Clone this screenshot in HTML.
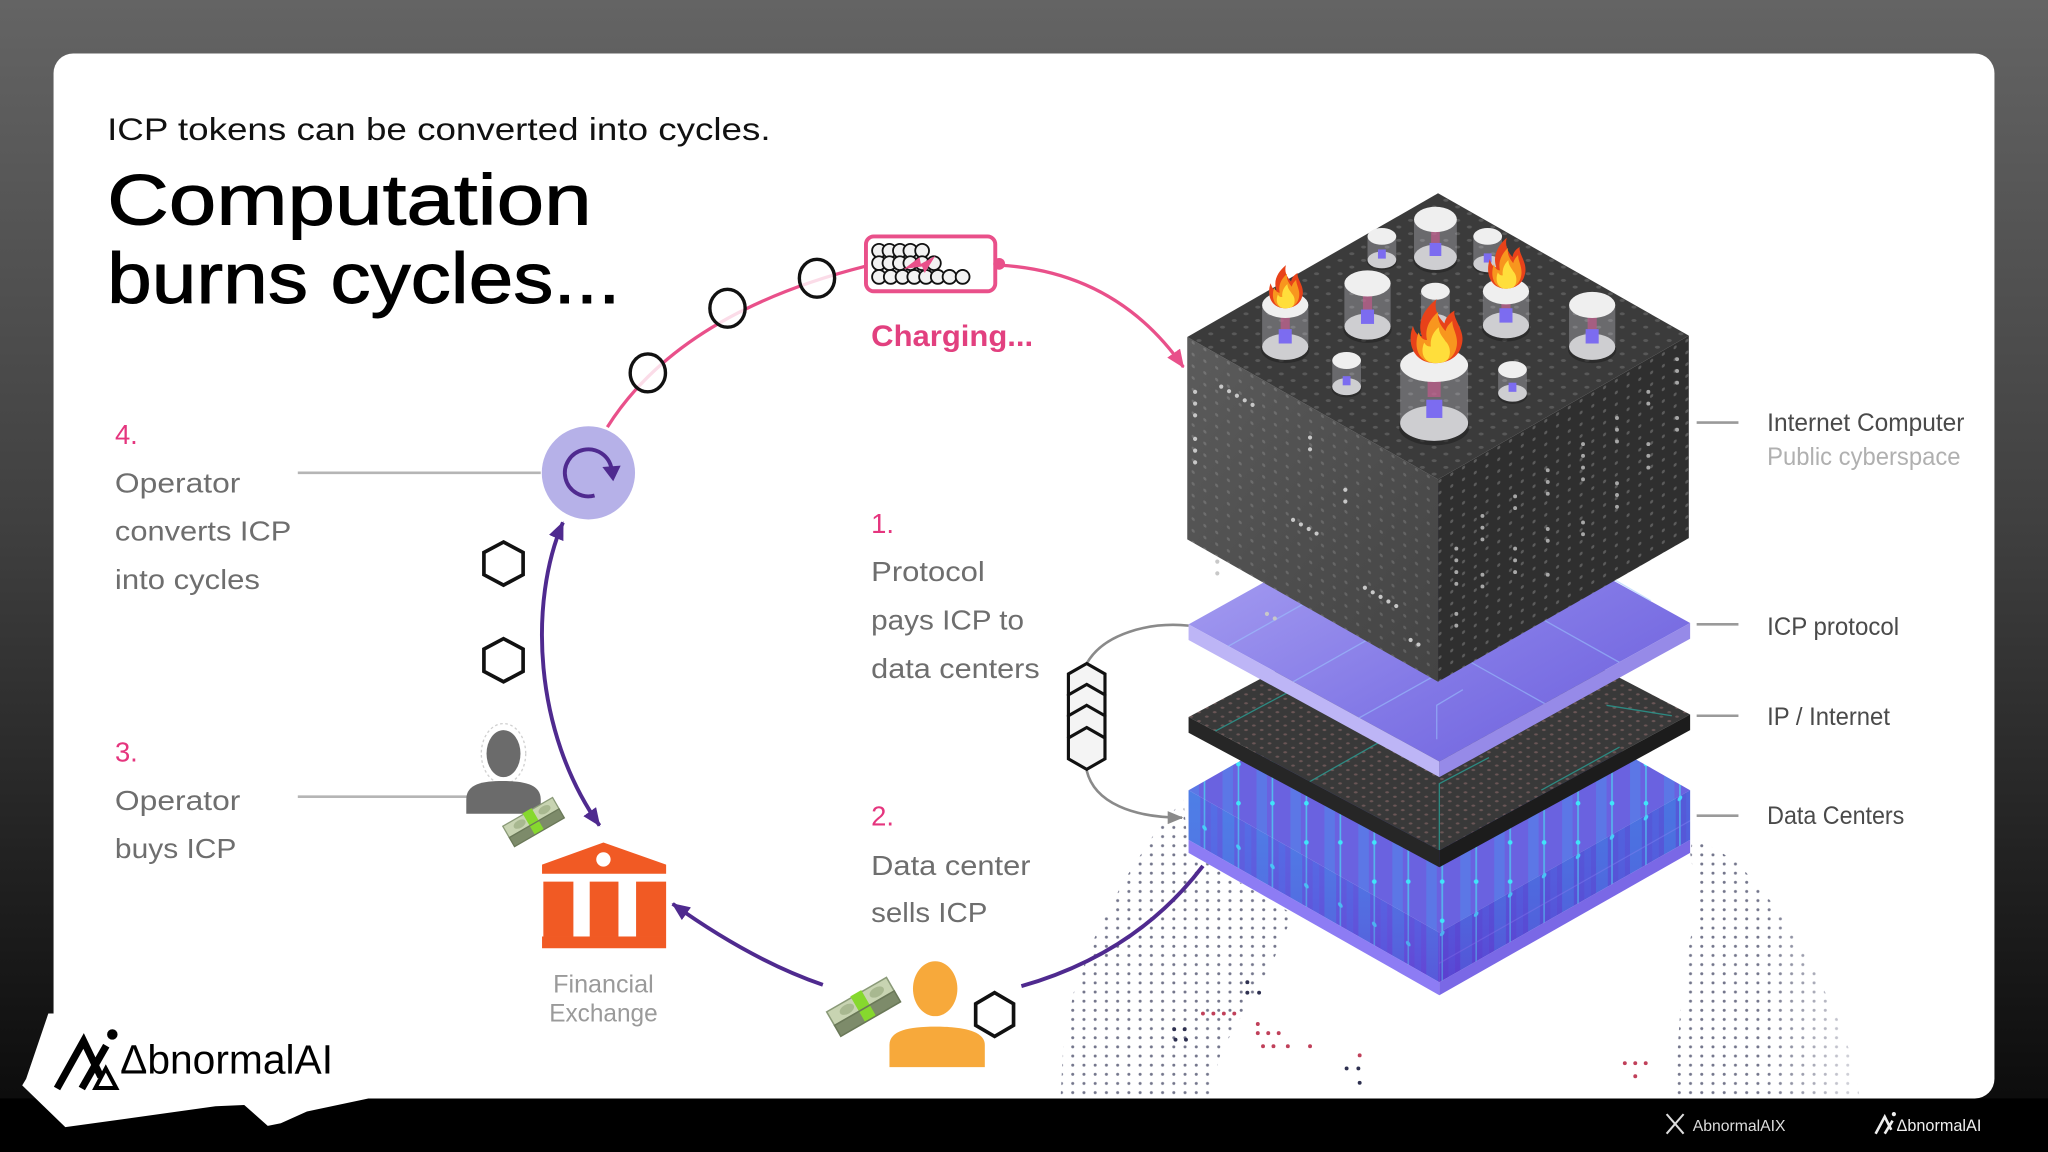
<!DOCTYPE html>
<html><head><meta charset="utf-8"><style>
html,body{margin:0;padding:0;background:#000;overflow:hidden;width:2048px;height:1152px}
svg{display:block}
</style></head><body>
<svg width="2048" height="1152" viewBox="0 0 1568 882" xmlns="http://www.w3.org/2000/svg" xmlns:xlink="http://www.w3.org/1999/xlink" font-family="'Liberation Sans', sans-serif">
<defs>
<linearGradient id="bg" x1="0" y1="0" x2="0" y2="1">
<stop offset="0" stop-color="#646464"/><stop offset="0.45" stop-color="#404040"/><stop offset="0.8" stop-color="#1c1c1c"/><stop offset="1" stop-color="#080808"/>
</linearGradient>
<pattern id="pTop" width="9" height="9" patternUnits="userSpaceOnUse" patternTransform="matrix(1 0.568 -1 0.568 0 0)"><rect width="9" height="9" fill="#3b3b3b"/><circle cx="4.5" cy="4.5" r="1.4" fill="#595959"/></pattern>
<pattern id="pLeft" width="9" height="9" patternUnits="userSpaceOnUse" patternTransform="skewY(29.6)"><rect width="9" height="9" fill="#4a4a4a"/><circle cx="4.5" cy="4.5" r="1.2" fill="#666"/></pattern>
<pattern id="pRight" width="9" height="9" patternUnits="userSpaceOnUse" patternTransform="skewY(-29.6)"><rect width="9" height="9" fill="#2f2f2f"/><circle cx="4.5" cy="4.5" r="1.2" fill="#5c5c5c"/></pattern>
<pattern id="pIP" width="6" height="6" patternUnits="userSpaceOnUse" patternTransform="matrix(1 0.568 -1 0.568 0 0)"><rect width="6" height="6" fill="#393939"/><circle cx="3" cy="3" r="1" fill="#6a5656"/></pattern>
<pattern id="pDCL" width="26" height="44" patternUnits="userSpaceOnUse" patternTransform="skewY(29.6)"><rect width="26" height="44" fill="#5d55d8"/><rect width="9" height="44" fill="#4385e4" opacity="0.7"/><rect x="17" width="5" height="44" fill="#4a70e6" opacity="0.5"/><rect x="11.6" width="1.2" height="44" fill="#4fd0f0" opacity="0.8"/><circle cx="12.2" cy="22" r="1.8" fill="#3fe6fa"/><rect y="43" width="26" height="1" fill="#8a80f0" opacity="0.5"/></pattern>
<pattern id="pDCR" width="26" height="44" patternUnits="userSpaceOnUse" patternTransform="skewY(-29.6)"><rect width="26" height="44" fill="#5249cf"/><rect width="9" height="44" fill="#3f7de0" opacity="0.65"/><rect x="17" width="5" height="44" fill="#4a62de" opacity="0.5"/><rect x="11.6" width="1.2" height="44" fill="#4fd0f0" opacity="0.8"/><circle cx="12.2" cy="22" r="1.8" fill="#3fe6fa"/><rect y="43" width="26" height="1" fill="#8a80f0" opacity="0.5"/></pattern>
<pattern id="pDCT" width="26" height="30" patternUnits="userSpaceOnUse"><rect width="26" height="30" fill="#6a62e0"/><rect width="8" height="30" fill="#4d8cec" opacity="0.5"/><rect x="11.6" width="1.2" height="30" fill="#4fd0f0" opacity="0.8"/><circle cx="12.2" cy="15" r="1.8" fill="#3fe6fa"/></pattern>
<pattern id="pG" width="8.6" height="7" patternUnits="userSpaceOnUse"><circle cx="4.3" cy="3.5" r="1.15" fill="#50536e"/></pattern>
<linearGradient id="fadeL" x1="0" y1="0" x2="1" y2="0" gradientUnits="userSpaceOnUse" x1="810" x2="880" y1="0" y2="0"><stop offset="0" stop-color="#fff" stop-opacity="0.75"/><stop offset="1" stop-color="#fff" stop-opacity="0"/></linearGradient>
<linearGradient id="fadeR" gradientUnits="userSpaceOnUse" x1="1425" x2="1350" y1="0" y2="0"><stop offset="0" stop-color="#fff" stop-opacity="0.75"/><stop offset="1" stop-color="#fff" stop-opacity="0"/></linearGradient>
<linearGradient id="gICP" x1="0" y1="0" x2="1" y2="1"><stop offset="0" stop-color="#b0a8f4"/><stop offset="0.6" stop-color="#8278e6"/><stop offset="1" stop-color="#6a5cdc"/></linearGradient>
<linearGradient id="gLeft" x1="0" y1="0" x2="1" y2="1"><stop offset="0" stop-color="#fff" stop-opacity="0.1"/><stop offset="1" stop-color="#000" stop-opacity="0.08"/></linearGradient>
<linearGradient id="gDC" x1="0" y1="0" x2="0" y2="1"><stop offset="0" stop-color="#5aa0ff" stop-opacity="0.2"/><stop offset="1" stop-color="#6a2fd0" stop-opacity="0.4"/></linearGradient>
<marker id="mPink" markerWidth="14" markerHeight="12" refX="13" refY="6" orient="auto" markerUnits="userSpaceOnUse"><path d="M0,0 L14,6 L0,12 Z" fill="#e9508a"/></marker>
<marker id="mPurple" markerWidth="14" markerHeight="12" refX="13" refY="6" orient="auto-start-reverse" markerUnits="userSpaceOnUse"><path d="M0,0 L14,6 L0,12 Z" fill="#4f2a8f"/></marker>
<marker id="mGray" markerWidth="12" markerHeight="10" refX="11" refY="5" orient="auto" markerUnits="userSpaceOnUse"><path d="M0,0 L12,5 L0,10 Z" fill="#8a8a8a"/></marker>
<g id="flame">
<path d="M0,0 C-0.38,0 -0.52,-0.3 -0.4,-0.58 C-0.36,-0.46 -0.3,-0.42 -0.24,-0.42 C-0.34,-0.66 -0.18,-0.86 0.02,-1 C-0.04,-0.82 0.08,-0.7 0.16,-0.62 C0.18,-0.72 0.26,-0.78 0.34,-0.82 C0.3,-0.68 0.56,-0.5 0.46,-0.26 C0.4,-0.08 0.2,0 0,0 Z" fill="#e8421a"/>
<path d="M0,0 C-0.3,0 -0.4,-0.25 -0.3,-0.48 C-0.26,-0.38 -0.2,-0.36 -0.15,-0.36 C-0.2,-0.56 -0.08,-0.7 0.05,-0.8 C0.02,-0.66 0.12,-0.56 0.18,-0.5 C0.2,-0.58 0.26,-0.62 0.3,-0.66 C0.3,-0.52 0.44,-0.4 0.36,-0.2 C0.3,-0.06 0.16,0 0,0 Z" fill="#f8961e"/>
<path d="M0,0 C-0.2,0 -0.28,-0.16 -0.2,-0.32 C-0.16,-0.26 -0.12,-0.26 -0.08,-0.26 C-0.1,-0.4 -0.02,-0.5 0.06,-0.56 C0.06,-0.46 0.14,-0.4 0.18,-0.34 C0.28,-0.26 0.28,-0.1 0.2,-0.04 C0.14,0 0.06,0 0,0 Z" fill="#ffde3b"/>
</g>
<g id="money">
<path d="M-22,-8 L22,-8 L22,6 L-22,6 Z" fill="#7d8b6a"/>
<path d="M-22,-12 L22,-12 L22,-2 L-22,-2 Z" fill="#c8d4b2" stroke="#8a9a78" stroke-width="1"/>
<ellipse cx="-10" cy="-7" rx="5" ry="3" fill="#a8b890"/>
<ellipse cx="12" cy="-7" rx="5" ry="3" fill="#a8b890"/>
<rect x="-4" y="-13" width="8" height="19" fill="#86d82e"/>
<path d="M-22,-2 L22,-2 L22,6 L-22,6 Z" fill="none" stroke="#6a7858" stroke-width="1"/>
</g>
</defs>

<!-- background -->
<rect x="0" y="0" width="1568" height="882" fill="url(#bg)"/>
<rect x="0" y="841" width="1568" height="41" fill="#000"/>
<!-- card -->
<rect x="41" y="41" width="1486" height="800" rx="15" fill="#fff"/>
<rect x="41" y="800" width="60" height="41" fill="#fff"/>

<!-- title -->
<text x="82" y="107" font-size="24" fill="#111" textLength="508" lengthAdjust="spacingAndGlyphs">ICP tokens can be converted into cycles.</text>
<text x="82" y="172" font-size="55" fill="#000" stroke="#000" stroke-width="0.7" textLength="371" lengthAdjust="spacingAndGlyphs">Computation</text>
<text x="82" y="232" font-size="55" fill="#000" stroke="#000" stroke-width="0.7" textLength="393" lengthAdjust="spacingAndGlyphs">burns cycles...</text>

<!-- globe dots -->
<path d="M906,612 L910,653 L940,670 L990,700 L975,735 L955,770 L935,805 L925,841 L812,841 L814,800 L822,760 L838,718 L860,675 L884,638 Z" fill="url(#pG)" opacity="0.8"/>
<path d="M906,612 L910,653 L940,670 L990,700 L975,735 L955,770 L935,805 L925,841 L812,841 L814,800 L822,760 L838,718 L860,675 L884,638 Z" fill="url(#fadeL)"/>
<path d="M1296,640 L1294,653 L1300,690 L1292,730 L1286,780 L1282,841 L1424,841 L1418,810 L1405,775 L1385,735 L1360,695 L1330,660 Z" fill="url(#pG)" opacity="0.8"/>
<path d="M1296,640 L1294,653 L1300,690 L1292,730 L1286,780 L1282,841 L1424,841 L1418,810 L1405,775 L1385,735 L1360,695 L1330,660 Z" fill="url(#fadeR)"/>
<g fill="#c0405a">
<circle cx="921" cy="776" r="1.5"/><circle cx="929" cy="776" r="1.5"/><circle cx="937" cy="776" r="1.5"/><circle cx="945" cy="776" r="1.5"/>
<circle cx="963" cy="784" r="1.5"/><circle cx="963" cy="791" r="1.5"/><circle cx="971" cy="791" r="1.5"/><circle cx="979" cy="791" r="1.5"/>
<circle cx="967" cy="801" r="1.5"/><circle cx="975" cy="801" r="1.5"/><circle cx="986" cy="801" r="1.5"/><circle cx="1003" cy="801" r="1.5"/><circle cx="1041" cy="808" r="1.5"/>
<circle cx="1244" cy="814" r="1.5"/><circle cx="1252" cy="814" r="1.5"/><circle cx="1260" cy="814" r="1.5"/><circle cx="1252" cy="824" r="1.5"/>
</g>
<g fill="#2e3050">
<circle cx="955" cy="752" r="1.5"/><circle cx="955" cy="760" r="1.5"/><circle cx="964" cy="760" r="1.5"/><circle cx="1031" cy="818" r="1.5"/><circle cx="1040" cy="818" r="1.5"/><circle cx="1041" cy="829" r="1.5"/>
<circle cx="899" cy="788" r="1.5"/><circle cx="907" cy="788" r="1.5"/><circle cx="900" cy="796" r="1.5"/><circle cx="908" cy="796" r="1.5"/>
</g>

<!-- purple line to data center -->
<path d="M782,755 Q870,730 921,663" fill="none" stroke="#4f2a8f" stroke-width="3"/>

<!-- DATA CENTER block -->
<polygon points="910,605 1102,496 1294,605 1102,714" fill="url(#pDCT)"/>
<polygon points="910,605 1102,714 1102,752 910,643" fill="url(#pDCL)"/>
<polygon points="1102,714 1294,605 1294,643 1102,752" fill="url(#pDCR)"/>
<polygon points="910,605 1102,714 1102,752 910,643" fill="url(#gDC)"/>
<polygon points="1102,714 1294,605 1294,643 1102,752" fill="url(#gDC)"/>
<polygon points="910,643 1102,752 1102,762 910,653" fill="#8d7cf4"/>
<polygon points="1102,752 1294,643 1294,653 1102,762" fill="#7a68e6"/>

<!-- IP slab -->
<polygon points="910,549 1102,447 1294,547 1102,651" fill="url(#pIP)"/>
<g stroke="#2a9d94" stroke-width="1" fill="none" opacity="0.8">
<path d="M930,560 L990,528 L1010,540"/>
<path d="M1230,540 L1280,548"/>
<path d="M1102,651 L1102,600 L1140,580"/>
<path d="M1000,600 L1060,566"/>
<path d="M1180,605 L1240,572"/>
</g>
<polygon points="910,549 1102,651 1102,664 910,561" fill="#262626"/>
<polygon points="1102,651 1294,547 1294,559 1102,664" fill="#1c1c1c"/>

<!-- ICP slab -->
<polygon points="910,478 1102,371 1294,477 1102,583" fill="url(#gICP)"/>
<g stroke="#9cc8ff" stroke-width="1" fill="none" opacity="0.55">
<path d="M940,495 L1132,387"/>
<path d="M990,522 L1160,426"/>
<path d="M1040,550 L1210,455"/>
<path d="M1160,400 L1264,460"/>
<path d="M1120,440 L1245,510"/>
<path d="M1060,470 L1185,540"/>
<path d="M1100,566 L1100,540 L1120,528"/>
</g>
<polygon points="910,478 1102,583 1102,595 910,490" fill="#bdb5f6"/>
<polygon points="1102,583 1294,477 1294,489 1102,595" fill="#968ae8"/>

<!-- TOP cube -->
<polygon points="909,258 1101,367 1101,522 909,413" fill="url(#pLeft)"/>
<polygon points="909,258 1101,367 1101,522 909,413" fill="url(#gLeft)"/>
<polygon points="1101,367 1293,257 1293,412 1101,522" fill="url(#pRight)"/>
<polygon points="1101,148 1293,257 1101,367 909,258" fill="url(#pTop)"/>
<g fill="#c8c8c8">
<circle cx="915" cy="300" r="1.6"/><circle cx="915" cy="309" r="1.6"/><circle cx="915" cy="318" r="1.6"/><circle cx="915" cy="336" r="1.6"/><circle cx="915" cy="345" r="1.6"/><circle cx="915" cy="354" r="1.6"/>
<circle cx="935" cy="296" r="1.6"/><circle cx="941" cy="299.5" r="1.6"/><circle cx="947" cy="303" r="1.6"/><circle cx="953" cy="306.5" r="1.6"/><circle cx="959" cy="310" r="1.6"/>
<circle cx="1003" cy="335" r="1.6"/><circle cx="1003" cy="344" r="1.6"/>
<circle cx="990" cy="398" r="1.6"/><circle cx="996" cy="401.5" r="1.6"/><circle cx="1002" cy="405" r="1.6"/><circle cx="1008" cy="408.5" r="1.6"/>
<circle cx="1045" cy="450" r="1.6"/><circle cx="1051" cy="453.5" r="1.6"/><circle cx="1057" cy="457" r="1.6"/><circle cx="1063" cy="460.5" r="1.6"/><circle cx="1069" cy="464" r="1.6"/>
<circle cx="932" cy="430" r="1.6"/><circle cx="932" cy="439" r="1.6"/><circle cx="970" cy="470" r="1.6"/><circle cx="976" cy="473.5" r="1.6"/>
<circle cx="1080" cy="490" r="1.6"/><circle cx="1086" cy="493.5" r="1.6"/><circle cx="1030" cy="375" r="1.6"/><circle cx="1030" cy="384" r="1.6"/>
</g>
<g fill="#a8a8a8">
<circle cx="1115" cy="420" r="1.5"/><circle cx="1115" cy="429" r="1.5"/><circle cx="1115" cy="438" r="1.5"/><circle cx="1115" cy="447" r="1.5"/><circle cx="1115" cy="470" r="1.5"/><circle cx="1115" cy="479" r="1.5"/>
<circle cx="1135" cy="395" r="1.5"/><circle cx="1135" cy="404" r="1.5"/><circle cx="1135" cy="413" r="1.5"/><circle cx="1135" cy="440" r="1.5"/><circle cx="1135" cy="449" r="1.5"/>
<circle cx="1160" cy="380" r="1.5"/><circle cx="1160" cy="389" r="1.5"/><circle cx="1160" cy="420" r="1.5"/><circle cx="1160" cy="429" r="1.5"/><circle cx="1160" cy="438" r="1.5"/>
<circle cx="1185" cy="360" r="1.5"/><circle cx="1185" cy="369" r="1.5"/><circle cx="1185" cy="378" r="1.5"/><circle cx="1185" cy="405" r="1.5"/><circle cx="1185" cy="414" r="1.5"/><circle cx="1185" cy="440" r="1.5"/>
<circle cx="1212" cy="340" r="1.5"/><circle cx="1212" cy="349" r="1.5"/><circle cx="1212" cy="358" r="1.5"/><circle cx="1212" cy="367" r="1.5"/><circle cx="1212" cy="400" r="1.5"/><circle cx="1212" cy="409" r="1.5"/>
<circle cx="1238" cy="320" r="1.5"/><circle cx="1238" cy="329" r="1.5"/><circle cx="1238" cy="338" r="1.5"/><circle cx="1238" cy="370" r="1.5"/><circle cx="1238" cy="379" r="1.5"/><circle cx="1238" cy="388" r="1.5"/>
<circle cx="1262" cy="300" r="1.5"/><circle cx="1262" cy="309" r="1.5"/><circle cx="1262" cy="340" r="1.5"/><circle cx="1262" cy="349" r="1.5"/><circle cx="1262" cy="358" r="1.5"/>
<circle cx="1284" cy="275" r="1.5"/><circle cx="1284" cy="284" r="1.5"/><circle cx="1284" cy="293" r="1.5"/><circle cx="1284" cy="320" r="1.5"/><circle cx="1284" cy="329" r="1.5"/>
</g>

<!-- cylinders -->
<g id="cyls">
<ellipse cx="1099" cy="199" rx="17" ry="10" fill="#1e1e1e" opacity="0.5"/>
<ellipse cx="1099" cy="197" rx="16.4" ry="9.7" fill="#cbcbcb"/>
<path d="M1082.6,168 L1082.6,197 A16.4,9.7 0 0 0 1115.4,197 L1115.4,168 Z" fill="#d8d8e0" opacity="0.3"/>
<rect x="1095.7" y="176" width="6.6" height="12" fill="#c05a8a" opacity="0.7"/>
<rect x="1094.5" y="186" width="9" height="10" fill="#7c6cf0"/>
<ellipse cx="1099" cy="168" rx="16.4" ry="9.7" fill="#efefef"/>
<ellipse cx="1058" cy="200" rx="11.5" ry="6.8" fill="#1e1e1e" opacity="0.5"/>
<ellipse cx="1058" cy="199" rx="11" ry="6.4" fill="#cbcbcb"/>
<path d="M1047,181 L1047,199 A11,6.4 0 0 0 1069,199 L1069,181 Z" fill="#d8d8e0" opacity="0.3"/>
<rect x="1055" y="191" width="6" height="7" fill="#7c6cf0"/>
<ellipse cx="1058" cy="181" rx="11" ry="6.4" fill="#efefef"/>
<ellipse cx="1139" cy="203" rx="11.5" ry="6.8" fill="#1e1e1e" opacity="0.5"/>
<ellipse cx="1139" cy="202" rx="11" ry="6.4" fill="#cbcbcb"/>
<path d="M1128,181 L1128,202 A11,6.4 0 0 0 1150,202 L1150,181 Z" fill="#d8d8e0" opacity="0.3"/>
<rect x="1136" y="194" width="6" height="7" fill="#7c6cf0"/>
<ellipse cx="1139" cy="181" rx="11" ry="6.4" fill="#efefef"/>
<ellipse cx="1047" cy="252" rx="18.5" ry="10.5" fill="#1e1e1e" opacity="0.5"/>
<ellipse cx="1047" cy="250" rx="17.7" ry="10" fill="#cbcbcb"/>
<path d="M1029.3,217 L1029.3,250 A17.7,10 0 0 0 1064.7,250 L1064.7,217 Z" fill="#d8d8e0" opacity="0.3"/>
<rect x="1043.5" y="226" width="7" height="12" fill="#c05a8a" opacity="0.7"/>
<rect x="1042" y="237" width="10" height="11" fill="#7c6cf0"/>
<ellipse cx="1047" cy="217" rx="17.7" ry="10" fill="#efefef"/>
<ellipse cx="1099" cy="248" rx="11.5" ry="6.8" fill="#1e1e1e" opacity="0.5"/>
<ellipse cx="1099" cy="247" rx="11" ry="6.5" fill="#cbcbcb"/>
<path d="M1088,223 L1088,247 A11,6.5 0 0 0 1110,247 L1110,223 Z" fill="#d8d8e0" opacity="0.3"/>
<ellipse cx="1099" cy="223" rx="11" ry="6.5" fill="#efefef"/>
<ellipse cx="1153" cy="251" rx="18.5" ry="10.5" fill="#1e1e1e" opacity="0.5"/>
<ellipse cx="1153" cy="249" rx="17.7" ry="10" fill="#cbcbcb"/>
<path d="M1135.3,223 L1135.3,249 A17.7,10 0 0 0 1170.7,249 L1170.7,223 Z" fill="#d8d8e0" opacity="0.3"/>
<rect x="1149.5" y="230" width="7" height="8" fill="#c05a8a" opacity="0.7"/>
<rect x="1148" y="236" width="10" height="11" fill="#7c6cf0"/>
<ellipse cx="1153" cy="223" rx="17.7" ry="10" fill="#efefef"/>
<use xlink:href="#flame" href="#flame" transform="translate(1153,221) scale(31,39)"/>
<ellipse cx="984" cy="267.5" rx="18.5" ry="10.5" fill="#1e1e1e" opacity="0.5"/>
<ellipse cx="984" cy="265.5" rx="17.7" ry="10" fill="#cbcbcb"/>
<path d="M966.3,233.5 L966.3,265.5 A17.7,10 0 0 0 1001.7,265.5 L1001.7,233.5 Z" fill="#d8d8e0" opacity="0.3"/>
<rect x="980.5" y="242" width="7" height="11" fill="#c05a8a" opacity="0.7"/>
<rect x="979" y="252" width="10" height="11" fill="#7c6cf0"/>
<ellipse cx="984" cy="233.5" rx="17.7" ry="10" fill="#efefef"/>
<use xlink:href="#flame" href="#flame" transform="translate(984,236) scale(28,33)"/>
<ellipse cx="1219" cy="267.5" rx="18.5" ry="10.5" fill="#1e1e1e" opacity="0.5"/>
<ellipse cx="1219" cy="265.5" rx="17.7" ry="10" fill="#cbcbcb"/>
<path d="M1201.3,233.5 L1201.3,265.5 A17.7,10 0 0 0 1236.7,265.5 L1236.7,233.5 Z" fill="#d8d8e0" opacity="0.3"/>
<rect x="1215.5" y="242" width="7" height="11" fill="#c05a8a" opacity="0.7"/>
<rect x="1214" y="252" width="10" height="11" fill="#7c6cf0"/>
<ellipse cx="1219" cy="233.5" rx="17.7" ry="10" fill="#efefef"/>
<ellipse cx="1031" cy="297.5" rx="11.5" ry="6.8" fill="#1e1e1e" opacity="0.5"/>
<ellipse cx="1031" cy="296" rx="11" ry="6.5" fill="#cbcbcb"/>
<path d="M1020,276 L1020,296 A11,6.5 0 0 0 1042,296 L1042,276 Z" fill="#d8d8e0" opacity="0.3"/>
<rect x="1028" y="288" width="6" height="7" fill="#7c6cf0"/>
<ellipse cx="1031" cy="276" rx="11" ry="6.5" fill="#efefef"/>
<ellipse cx="1098" cy="327" rx="27" ry="14" fill="#1e1e1e" opacity="0.5"/>
<ellipse cx="1098" cy="324" rx="26" ry="13.5" fill="#cbcbcb"/>
<path d="M1072,279.5 L1072,324 A26,13.5 0 0 0 1124,324 L1124,279.5 Z" fill="#d8d8e0" opacity="0.3"/>
<rect x="1093" y="292" width="10" height="12" fill="#c05a8a" opacity="0.7"/>
<rect x="1092" y="306" width="12.3" height="14" fill="#7c6cf0"/>
<ellipse cx="1098" cy="279.5" rx="26" ry="13" fill="#efefef"/>
<use xlink:href="#flame" href="#flame" transform="translate(1099,278) scale(43,49)"/>
<ellipse cx="1158" cy="302.5" rx="11.5" ry="6.8" fill="#1e1e1e" opacity="0.5"/>
<ellipse cx="1158" cy="301" rx="11" ry="6.5" fill="#cbcbcb"/>
<path d="M1147,283 L1147,301 A11,6.5 0 0 0 1169,301 L1169,283 Z" fill="#d8d8e0" opacity="0.3"/>
<rect x="1155" y="293" width="6" height="7" fill="#7c6cf0"/>
<ellipse cx="1158" cy="283" rx="11" ry="6.5" fill="#efefef"/>
</g>

<!-- gray arc with hex stack -->
<path d="M910,479 C880,476 845,485 832,508" fill="none" stroke="#8a8a8a" stroke-width="2"/>
<path d="M832,590 C838,615 868,626 905,626" fill="none" stroke="#8a8a8a" stroke-width="2" marker-end="url(#mGray)"/>
<g fill="#f4f4f4" stroke="#111" stroke-width="2.4">
<polygon points="832,508 846,516 846,532 832,540 818,532 818,516"/>
<polygon points="832,524 846,532 846,548 832,556 818,548 818,532"/>
<polygon points="832,540 846,548 846,564 832,572 818,564 818,548"/>
<polygon points="832,557 846,565 846,581 832,589 818,581 818,565"/>
</g>

<!-- pink arc -->
<path d="M465,327 Q520,240 662,204" fill="none" stroke="#e9508a" stroke-width="2.5"/>
<path d="M765,203 Q855,208 906,281" fill="none" stroke="#e9508a" stroke-width="2.5" marker-end="url(#mPink)"/>
<g fill="#fff" fill-opacity="0.8" stroke="#111" stroke-width="2.6">
<ellipse cx="496" cy="285.5" rx="13.5" ry="14.5"/>
<ellipse cx="557" cy="236" rx="13.5" ry="14.5"/>
<ellipse cx="625.5" cy="213" rx="13.5" ry="14.5"/>
</g>
<!-- battery -->
<rect x="663" y="181" width="99" height="42" rx="6" fill="#fff" stroke="#e9508a" stroke-width="3"/>
<circle cx="765" cy="202" r="4.5" fill="#e9508a"/>
<g fill="#f2f2f2" stroke="#111" stroke-width="1.4">
<circle cx="673" cy="192" r="5.3"/><circle cx="681" cy="192" r="5.3"/><circle cx="689" cy="192" r="5.3"/><circle cx="697" cy="192" r="5.3"/><circle cx="706" cy="192" r="5.3"/>
<circle cx="673" cy="201.5" r="5.3"/><circle cx="681" cy="201.5" r="5.3"/><circle cx="689" cy="201.5" r="5.3"/><circle cx="697" cy="201.5" r="5.3"/><circle cx="706" cy="201.5" r="5.3"/><circle cx="715" cy="201.5" r="5.3"/>
<circle cx="673" cy="212" r="5.3"/><circle cx="682" cy="212" r="5.3"/><circle cx="691" cy="212" r="5.3"/><circle cx="700" cy="212" r="5.3"/><circle cx="709" cy="212" r="5.3"/><circle cx="718" cy="212" r="5.3"/><circle cx="727" cy="212" r="5.3"/><circle cx="737" cy="212" r="5.3"/>
</g>
<path d="M692,206 L704,197 L705,202 L716,196 L708,209 L706,204 Z" fill="#e9508a"/>
<text x="667" y="265" font-size="23" font-weight="bold" fill="#e2407f" textLength="124" lengthAdjust="spacingAndGlyphs">Charging...</text>

<!-- operator circle -->
<circle cx="450.5" cy="362" r="35.7" fill="#b6b1e8"/>
<path d="M455.2,379.4 A18,18 0 1 1 468.2,358.9" fill="none" stroke="#4f2a8f" stroke-width="3"/>
<path d="M461.2,357.5 L475.2,356.5 L469.5,368.5 Z" fill="#4f2a8f"/>

<!-- gray connector lines -->
<line x1="228" y1="362" x2="414" y2="362" stroke="#b5b5b5" stroke-width="2"/>
<line x1="228" y1="610" x2="362" y2="610" stroke="#b5b5b5" stroke-width="2"/>

<!-- hexagons -->
<g fill="#fff" stroke="#111" stroke-width="2.8">
<polygon points="385.5,415 400.5,423 400.5,440 385.5,448 370.5,440 370.5,423"/>
<polygon points="385.5,489 400.5,497 400.5,514 385.5,522 370.5,514 370.5,497"/>
<polygon points="761.5,760 776,768.5 776,785 761.5,793.5 747,785 747,768.5"/>
</g>

<!-- purple arrows -->
<path d="M431,400 C405,460 408,560 459,632" fill="none" stroke="#4f2a8f" stroke-width="3" marker-start="url(#mPurple)" marker-end="url(#mPurple)"/>
<path d="M630,754 Q575,735 515,692" fill="none" stroke="#4f2a8f" stroke-width="3" marker-end="url(#mPurple)"/>

<!-- gray person -->
<ellipse cx="385.5" cy="577" rx="17" ry="23" fill="none" stroke="#d0d0d0" stroke-width="1" stroke-dasharray="2,2"/>
<ellipse cx="385.5" cy="577" rx="13" ry="18" fill="#6b6b6b"/>
<path d="M357,623 L357,612 C357,600 370,598 385,598 C400,598 414,600 414,612 L414,623 Z" fill="#6b6b6b"/>
<use xlink:href="#money" href="#money" transform="translate(410,632) rotate(-30)"/>

<!-- bank -->
<g fill="#f15a24">
<path d="M415,662 L462,645 L510,662 L510,669 L415,669 Z"/>
<rect x="416" y="675" width="23" height="42"/>
<rect x="451.5" y="675" width="22" height="42"/>
<rect x="487" y="675" width="23" height="42"/>
<rect x="415" y="717" width="95" height="9"/>
</g>
<circle cx="462" cy="658" r="5.5" fill="#fff"/>
<text x="462" y="760" font-size="19" fill="#9a9a9a" text-anchor="middle" textLength="77" lengthAdjust="spacingAndGlyphs">Financial</text>
<text x="462" y="782" font-size="19" fill="#9a9a9a" text-anchor="middle" textLength="83" lengthAdjust="spacingAndGlyphs">Exchange</text>

<!-- orange person -->
<ellipse cx="716" cy="757" rx="17" ry="21" fill="#f7a93b"/>
<path d="M681,817 L681,800 C681,789 696,786 716,786 C736,786 754,789 754,800 L754,817 Z" fill="#f7a93b"/>
<use xlink:href="#money" href="#money" transform="translate(663,774) rotate(-30) scale(1.2)"/>

<!-- left labels -->
<g font-size="21" fill="#6e6e6e">
<text x="88" y="340" fill="#e5357e">4.</text>
<text x="88" y="377" textLength="96" lengthAdjust="spacingAndGlyphs">Operator</text>
<text x="88" y="414" textLength="135" lengthAdjust="spacingAndGlyphs">converts ICP</text>
<text x="88" y="451" textLength="111" lengthAdjust="spacingAndGlyphs">into cycles</text>
<text x="88" y="583" fill="#e5357e">3.</text>
<text x="88" y="620" textLength="96" lengthAdjust="spacingAndGlyphs">Operator</text>
<text x="88" y="657" textLength="93" lengthAdjust="spacingAndGlyphs">buys ICP</text>
<text x="667" y="408" fill="#e5357e">1.</text>
<text x="667" y="445" textLength="87" lengthAdjust="spacingAndGlyphs">Protocol</text>
<text x="667" y="482" textLength="117" lengthAdjust="spacingAndGlyphs">pays ICP to</text>
<text x="667" y="519" textLength="129" lengthAdjust="spacingAndGlyphs">data centers</text>
<text x="667" y="632" fill="#e5357e">2.</text>
<text x="667" y="670" textLength="122" lengthAdjust="spacingAndGlyphs">Data center</text>
<text x="667" y="706" textLength="89" lengthAdjust="spacingAndGlyphs">sells ICP</text>
</g>

<!-- right labels -->
<g stroke="#9a9a9a" stroke-width="2">
<line x1="1299" y1="323.5" x2="1331" y2="323.5"/>
<line x1="1299" y1="478" x2="1331" y2="478"/>
<line x1="1299" y1="548" x2="1331" y2="548"/>
<line x1="1299" y1="624.5" x2="1331" y2="624.5"/>
</g>
<g font-size="19" fill="#4a4a4a">
<text x="1353" y="330" textLength="151" lengthAdjust="spacingAndGlyphs">Internet Computer</text>
<text x="1353" y="356" fill="#b0b0b0" textLength="148" lengthAdjust="spacingAndGlyphs">Public cyberspace</text>
<text x="1353" y="486" textLength="101" lengthAdjust="spacingAndGlyphs">ICP protocol</text>
<text x="1353" y="555" textLength="94" lengthAdjust="spacingAndGlyphs">IP / Internet</text>
<text x="1353" y="631" textLength="105" lengthAdjust="spacingAndGlyphs">Data Centers</text>
</g>

<!-- bottom-left badge -->
<path d="M37,776 L282,776 L282,841 L235,851 L215,860 L205,862 L187,846 L165,847 L115,854 L50,863 L17,831 L20,826 Z" fill="#fff"/>
<g fill="none" stroke="#000" stroke-width="5.5" stroke-linejoin="miter" stroke-linecap="square">
<path d="M45,831 L64,797 L76,822"/>
<path d="M64,831 L80,803"/>
</g>
<path d="M73,833 L81,818 L89,833 Z" fill="none" stroke="#000" stroke-width="3"/>
<circle cx="86" cy="792" r="4" fill="#000"/>
<text x="92" y="822" font-size="31" fill="#000" textLength="163" lengthAdjust="spacingAndGlyphs">ΔbnormalAI</text>

<!-- footer right -->
<g stroke="#ddd" stroke-width="1.6">
<line x1="1276" y1="853" x2="1289" y2="868"/>
<line x1="1289" y1="853" x2="1276" y2="868"/>
</g>
<text x="1296" y="866" font-size="12" fill="#dcdcdc" textLength="71" lengthAdjust="spacingAndGlyphs">AbnormalAIX</text>
<g fill="none" stroke="#eee" stroke-width="2">
<path d="M1436,868 L1443,855 L1448,865"/>
<path d="M1443,868 L1449,858"/>
</g>
<circle cx="1450" cy="853" r="1.6" fill="#eee"/>
<text x="1452" y="866" font-size="13" fill="#eee" textLength="65" lengthAdjust="spacingAndGlyphs">ΔbnormalAI</text>
</svg>
</body></html>
